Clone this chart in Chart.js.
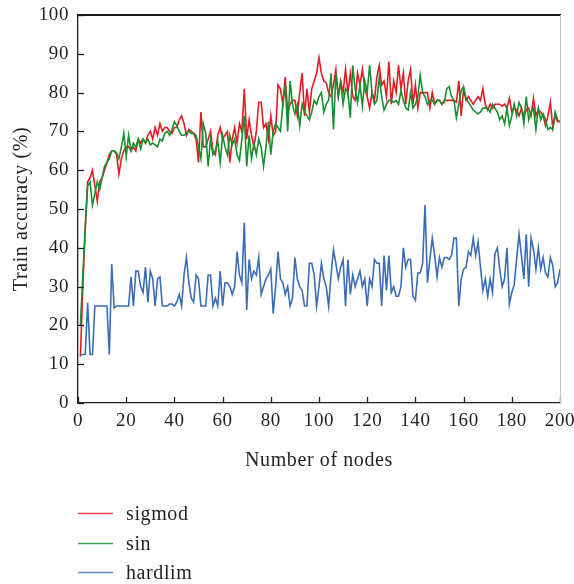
<!DOCTYPE html>
<html><head><meta charset="utf-8">
<script src="https://cdn.jsdelivr.net/npm/chart.js@4"></script>
<style>html,body{margin:0;padding:0;background:#fff}canvas{display:block}</style>
</head><body>
<canvas id="c" width="574" height="584"></canvas>
<script>
const nodes = Array.from({length: 200}, (_, i) => i + 1);

const sigmod = [
  12, 30, 45, 57, 58, 60, 56, 52, 57, 58,
  60, 62, 64, 65, 65, 64, 59, 63, 65, 66,
  66, 65, 66, 65, 68, 67, 68, 67, 69, 70,
  68, 71, 69, 72, 70, 71, 71, 70, 69.5, 71,
  71, 73, 74, 72, 69, 70.5, 70, 69.5, 68, 62,
  75, 66, 66, 68, 70, 65, 64, 69, 71, 68,
  69, 70, 62, 68, 71, 67, 72, 70, 81, 68,
  73, 69, 66, 70, 77.5, 77.5, 71, 72, 68, 74,
  69, 70, 82, 81, 77, 84, 75, 77, 78, 78,
  74, 80, 85, 74, 81, 75, 81, 83, 85, 89,
  85, 83, 82.5, 80, 79, 82, 86, 79, 83, 80,
  86, 80, 85, 79, 78, 85, 82, 86, 81, 79,
  76, 80, 78, 84, 87, 82, 83, 79, 88, 77,
  83, 80, 87, 81, 85, 77, 83, 86, 77, 82,
  76, 80, 80, 80, 80, 76, 80, 77, 78, 78,
  77, 78, 78, 78, 78, 78, 77.5, 83, 74, 81,
  78, 79, 78, 77, 78, 79, 78, 81, 77, 75.5,
  77, 76, 77, 77, 77, 76.5, 77, 76, 78.5, 75,
  76, 75.5, 74, 76, 74, 75.5, 76, 74, 78.5, 74,
  75.5, 75, 74, 71.5, 74, 77.5, 71, 74, 72.5, 72.5
];

const sin = [
  20, 33, 45, 56, 57, 51, 54, 57, 55, 58,
  61, 62, 63, 65, 65, 64.5, 63, 66, 69.5, 63.5,
  69, 65, 67, 66, 68, 65.5, 68, 67, 68, 66.5,
  67, 66.5, 66, 68, 67.5, 69.5, 70, 69, 70.5, 72.5,
  71.5, 70, 69, 69, 69.5, 70, 69.5, 69.5, 69, 66,
  63, 72, 69.5, 61, 68, 64, 65, 67.5, 62, 69,
  66, 64, 69, 66.5, 68, 64, 62.5, 68, 74, 61,
  69, 63, 67, 64, 68, 66, 61, 66, 72.5, 64,
  70, 72, 71, 70, 77, 82, 70, 83, 77, 74.5,
  77, 71.5, 77, 75, 74, 73, 75, 78, 77, 79,
  80, 75, 77, 78, 85, 70.5, 85, 79, 82.5, 77,
  81, 80, 73.5, 87, 81, 77.5, 82, 76.5, 83, 80,
  87, 80, 77, 78, 84, 79, 75.5, 77, 78, 78,
  77.5, 78, 77, 80.5, 78, 76, 75.5, 80, 76, 77,
  79, 84.5, 80, 79, 77, 78, 78, 77, 78, 78,
  77, 77.5, 81, 81.5, 79, 78, 73.5, 77, 80.5, 81.5,
  78.5, 77.5, 76.5, 75.5, 75, 74.5, 75, 76, 76, 76,
  75, 77, 76, 75, 73, 74, 72, 76, 71.5, 74,
  77, 74, 77.5, 76, 72, 79, 73, 75, 76, 70.5,
  76, 73, 74.5, 73, 70.5, 71, 70.5, 75, 73, 72.5
];

const hardlim = [
  12.5, 12.5, 12.5, 25.8, 12.5, 12.5, 25, 25, 25, 25,
  25, 25, 12.5, 35.8, 24.5, 25, 25, 25, 25, 25,
  25, 32.5, 25, 34, 34, 30, 28.5, 35, 26, 34,
  32, 25, 32, 32.5, 25, 25, 25, 25.5, 25.5, 25,
  26, 28, 25, 33, 37.5, 31, 27, 26, 33, 32,
  25, 25, 25, 33, 33, 25, 27, 25, 34, 25,
  31, 31, 30, 28, 30, 39, 33, 31, 46.5, 24,
  37, 32, 34, 33, 37.5, 28, 30, 32, 33, 34.5,
  23, 30, 39, 32, 31, 28, 30, 25, 27, 37.5,
  32, 30, 29, 25, 25, 36, 36, 33, 25, 30,
  36, 32, 30, 25, 33, 39.5, 36, 32, 35, 37,
  25, 37, 28, 33, 30, 32, 34, 30, 32, 25,
  32, 30, 37, 36, 36, 25, 38, 29, 38, 28.5,
  30, 27.5, 27.5, 30, 40, 35, 37, 37, 27.5, 26.5,
  33.5, 33.5, 36, 51, 31, 37, 42.5, 38, 32.5, 37.5,
  35, 37.5, 37.5, 37, 38, 42.5, 42.5, 25, 32, 34.5,
  35, 39, 38, 42.5, 38, 41.5, 35, 29, 32, 27.5,
  32, 28.5, 38.5, 40, 34.5, 30, 32, 40, 25.5, 28.5,
  30.5, 37, 43.5, 38, 32, 43.5, 30, 42.5, 39.5, 34.5,
  40, 34.5, 37.5, 33.5, 32.5, 37.5, 35.5, 30, 31, 34.5
];

const seriesNames = ['sigmod', 'sin', 'hardlim'];
const seriesColors = ['#e31b23', '#17902f', '#3b6db5'];
const xTitle = 'Number of nodes';
const yTitle = 'Train accuracy (%)';

const FONT = "'Liberation Serif', 'Times New Roman', serif";
const TXT = '#231f20';

const framePlugin = {
  id: 'frame',
  beforeDraw(chart) {
    chart.ctx.letterSpacing = '0.6px';
  },
  afterDraw(chart) {
    const {ctx, chartArea: a, scales: {x, y}} = chart;
    ctx.save();
    ctx.strokeStyle = '#231f20';
    ctx.lineWidth = 1.3;
    x.ticks.forEach(t => {
      const px = Math.round(x.getPixelForValue(t.value)) + 0.5;
      ctx.beginPath(); ctx.moveTo(px, a.bottom); ctx.lineTo(px, a.bottom - 6); ctx.stroke();
    });
    y.ticks.forEach(t => {
      const py = Math.round(y.getPixelForValue(t.value)) + 0.5;
      ctx.beginPath(); ctx.moveTo(a.left, py); ctx.lineTo(a.left + 6, py); ctx.stroke();
    });
    ctx.strokeStyle = '#1a1a1a'; ctx.lineWidth = 2;
    ctx.beginPath(); ctx.moveTo(a.left, a.top); ctx.lineTo(a.right + 1, a.top); ctx.stroke();
    ctx.strokeStyle = '#c4c4c4'; ctx.lineWidth = 1;
    ctx.beginPath(); ctx.moveTo(a.right + 0.5, a.top); ctx.lineTo(a.right + 0.5, a.bottom); ctx.stroke();
    // legend
    const rows = [513, 543, 572];
    ctx.font = '20px ' + FONT;
    ctx.fillStyle = TXT;
    ctx.textBaseline = 'alphabetic';
    ctx.textAlign = 'left';
    chart.data.datasets.forEach((ds, i) => {
      const yy = rows[i] + 0.5;
      ctx.strokeStyle = ds.borderColor; ctx.lineWidth = 1.3; ctx.globalAlpha = 0.8;
      ctx.beginPath(); ctx.moveTo(78, yy); ctx.lineTo(113, yy); ctx.stroke();
      ctx.globalAlpha = 1;
      ctx.fillText(ds.label, 126, rows[i] + 6.5);
    });
    ctx.restore();
  }
};

const order = [3, 2, 1];
const seriesData = [sigmod, sin, hardlim];

new Chart(document.getElementById('c'), {
  type: 'line',
  data: {
    labels: nodes,
    datasets: seriesNames.map((name, i) => ({
      label: name,
      data: seriesData[i],
      borderColor: seriesColors[i],
      backgroundColor: seriesColors[i],
      borderWidth: 1.6,
      pointRadius: 0,
      tension: 0,
      fill: false,
      order: order[i]
    }))
  },
  options: {
    responsive: false,
    animation: false,
    events: [],
    layout: {padding: {left: 0, top: 15, right: 14, bottom: 101}},
    plugins: {legend: {display: false}, tooltip: {enabled: false}},
    scales: {
      x: {
        type: 'linear', min: 0, max: 200,
        afterFit(s) { s.height = 80; s.paddingLeft = 0; s.paddingRight = 0; },
        grid: {display: false, drawTicks: false},
        border: {display: true, color: '#231f20', width: 1.3},
        ticks: {stepSize: 20, color: TXT, font: {family: FONT, size: 19}, padding: 7, maxRotation: 0},
        title: {display: true, text: xTitle, color: TXT, font: {family: FONT, size: 20}, padding: {top: 0, bottom: 10}}
      },
      y: {
        type: 'linear', min: 0, max: 100,
        afterFit(s) { s.width = 78; s.paddingTop = 0; s.paddingBottom = 0; },
        grid: {display: false, drawTicks: false},
        border: {display: true, color: '#231f20', width: 1.3},
        ticks: {stepSize: 10, color: TXT, font: {family: FONT, size: 19}, padding: 9},
        title: {display: true, text: yTitle, color: TXT, font: {family: FONT, size: 20}, padding: {top: 10, bottom: 0}}
      }
    }
  },
  plugins: [framePlugin]
});
</script>
</body></html>
